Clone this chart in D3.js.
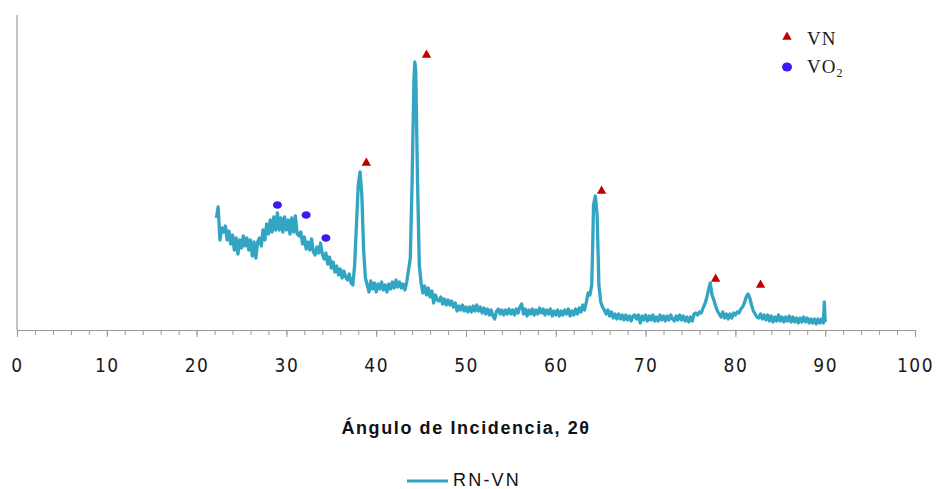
<!DOCTYPE html>
<html>
<head>
<meta charset="utf-8">
<script src="https://cdn.jsdelivr.net/npm/d3@7"></script>
<style>
  html, body { margin: 0; padding: 0; background: #fff; }
  svg { display: block; }
</style>
</head>
<body>
<svg id="chart" width="936" height="489"></svg>
<script>
// ---------- DATA ----------
const xTickValues = [0, 10, 20, 30, 40, 50, 60, 70, 80, 90, 100];
const seriesName = "RN-VN";
const xTitle = "Ángulo de Incidencia, 2θ";

// [2θ, intensity (a.u.)]
const pattern = [
  [22.2,112],[22.4,123],[22.6,90],[22.8,102],[23.0,98],[23.2,104],[23.4,90],[23.6,99],[23.8,86],[24.0,95],
  [24.2,80],[24.4,92],[24.6,76],[24.8,90],[25.0,82],[25.2,94],[25.4,84],[25.6,92],[25.8,80],[26.0,90],
  [26.2,74],[26.4,88],[26.6,72],[26.8,88],[27.0,92],[27.2,84],[27.4,100],[27.6,90],[27.8,106],[28.0,96],
  [28.2,110],[28.4,98],[28.6,113],[28.8,100],[29.0,117],[29.2,100],[29.4,112],[29.6,98],[29.8,113],[30.0,100],
  [30.2,110],[30.4,96],[30.6,112],[30.8,98],[31.0,114],[31.2,96],[31.4,94],[31.6,98],[31.8,86],[32.0,93],
  [32.2,81],[32.4,88],[32.6,80],[32.8,91],[33.0,78],[33.2,75],[33.4,83],[33.6,77],[33.8,87],[34.0,76],
  [34.2,71],[34.4,77],[34.6,66],[34.8,73],[35.0,62],[35.2,68],[35.4,58],[35.6,64],[35.8,55],[36.0,61],
  [36.2,52],[36.4,59],[36.6,53],[36.8,50],[37.0,56],[37.2,47],[37.4,45],[37.6,65],[37.8,105],[38.0,145],
  [38.2,158],[38.4,135],[38.6,80],[38.8,52],[39.0,45],[39.2,38],[39.4,49],[39.6,41],[39.8,47],[40.0,38],
  [40.2,46],[40.4,41],[40.6,48],[40.8,40],[41.0,45],[41.2,38],[41.4,46],[41.6,41],[41.8,48],[42.0,42],
  [42.2,50],[42.4,43],[42.6,48],[42.8,42],[43.0,46],[43.2,40],[43.4,48],[43.6,60],[43.8,72],[44.0,150],
  [44.2,250],[44.3,268],[44.4,260],[44.6,150],[44.8,65],[45.0,47],[45.2,37],[45.4,44],[45.6,35],[45.8,42],
  [46.0,33],[46.2,39],[46.4,27],[46.6,35],[46.8,30],[47.0,29],[47.2,33],[47.4,26],[47.6,31],[47.8,25],
  [48.0,30],[48.2,25],[48.4,29],[48.6,23],[48.8,27],[49.0,19],[49.2,24],[49.4,20],[49.6,25],[49.8,19],
  [50.0,23],[50.2,18],[50.4,23],[50.6,18],[50.8,24],[51.0,19],[51.2,25],[51.4,19],[51.6,23],[51.8,17],
  [52.0,22],[52.2,16],[52.4,21],[52.6,15],[52.8,20],[53.0,14],[53.2,11],[53.4,19],[53.6,21],[53.8,16],
  [54.0,20],[54.2,15],[54.4,20],[54.6,16],[54.8,21],[55.0,16],[55.2,20],[55.4,15],[55.6,21],[55.8,17],
  [56.0,23],[56.2,26],[56.4,16],[56.6,21],[56.8,14],[57.0,20],[57.2,16],[57.4,21],[57.6,15],[57.8,20],
  [58.0,16],[58.2,22],[58.4,17],[58.6,21],[58.8,15],[59.0,20],[59.2,16],[59.4,21],[59.6,14],[59.8,19],
  [60.0,15],[60.2,20],[60.4,14],[60.6,19],[60.8,15],[61.0,20],[61.2,16],[61.4,21],[61.6,14],[61.8,19],
  [62.0,15],[62.2,21],[62.4,16],[62.6,22],[62.8,18],[63.0,25],[63.2,20],[63.4,28],[63.6,37],[63.8,35],
  [64.0,45],[64.1,80],[64.2,125],[64.4,134],[64.6,115],[64.8,45],[65.0,28],[65.2,23],[65.4,20],[65.6,16],
  [65.8,20],[66.0,14],[66.2,18],[66.4,12],[66.6,16],[66.8,11],[67.0,16],[67.2,11],[67.4,15],[67.6,10],
  [67.8,15],[68.0,10],[68.2,14],[68.4,9],[68.6,14],[68.8,15],[69.0,11],[69.2,15],[69.4,7],[69.6,14],
  [69.8,10],[70.0,15],[70.2,9],[70.4,14],[70.6,10],[70.8,15],[71.0,9],[71.2,13],[71.4,9],[71.6,15],
  [71.8,10],[72.0,14],[72.2,9],[72.4,14],[72.6,10],[72.8,15],[73.0,11],[73.2,9],[73.4,14],[73.6,10],
  [73.8,15],[74.0,10],[74.2,14],[74.4,9],[74.6,13],[74.8,8],[75.0,13],[75.2,9],[75.4,16],[75.6,17],
  [75.8,15],[76.0,18],[76.2,17],[76.4,22],[76.6,26],[76.8,32],[77.0,40],[77.2,47],[77.4,35],[77.6,30],
  [77.8,24],[78.0,19],[78.2,16],[78.4,13],[78.6,18],[78.8,12],[79.0,16],[79.2,11],[79.4,16],[79.6,12],
  [79.8,17],[80.0,15],[80.2,18],[80.4,17],[80.6,21],[80.8,23],[81.0,27],[81.2,33],[81.4,36],[81.6,32],
  [81.8,25],[82.0,19],[82.2,16],[82.4,13],[82.6,12],[82.8,16],[83.0,11],[83.2,15],[83.4,10],[83.6,15],
  [83.8,9],[84.0,14],[84.2,8],[84.4,13],[84.6,9],[84.8,15],[85.0,9],[85.2,13],[85.4,8],[85.6,13],
  [85.8,9],[86.0,14],[86.2,8],[86.4,13],[86.6,8],[86.8,12],[87.0,7],[87.2,12],[87.4,8],[87.6,13],
  [87.8,8],[88.0,12],[88.2,7],[88.4,11],[88.6,7],[88.8,11],[89.0,6],[89.2,11],[89.4,7],[89.6,11],
  [89.8,7],[89.9,28],[90.0,8]
];

// Phase markers [2θ, intensity]
const vnPeaks = [[38.9,167],[45.6,275],[65.1,139],[77.8,51],[82.8,45]];
const vo2Peaks = [[29.0,125],[32.2,115],[34.4,92]];

// ---------- LAYOUT ----------
const svg = d3.select("#chart");
const x = d3.scaleLinear().domain([0, 100]).range([17, 915]);
const y = d3.scaleLinear().domain([0, 315]).range([330, 15]);

const axisColor = "#9a9a9a";
const lineColor = "#31a5c2";

// Y axis line (no ticks)
svg.append("line")
  .attr("x1", x(0)).attr("x2", x(0))
  .attr("y1", y(315)).attr("y2", y(0))
  .attr("stroke", axisColor).attr("stroke-width", 1.2);

// X axis: minor ticks every 2
const xAxisG = svg.append("g").attr("transform", `translate(0,${y(0)})`);
xAxisG.call(d3.axisBottom(x).tickValues(d3.range(0, 101, 2)).tickSize(5).tickFormat(""))
  .call(g => g.select(".domain").attr("stroke", axisColor).attr("stroke-width", 1.2))
  .call(g => g.selectAll(".tick line").attr("stroke", axisColor).attr("stroke-width", 1));
// Major ticks + labels
const xMajor = svg.append("g").attr("transform", `translate(0,${y(0)})`);
xMajor.call(d3.axisBottom(x).tickValues(xTickValues).tickSize(7).tickPadding(22).tickFormat(d3.format("d")))
  .call(g => g.select(".domain").remove())
  .call(g => g.selectAll(".tick line").attr("stroke", axisColor).attr("stroke-width", 1))
  .call(g => g.selectAll(".tick text")
      .attr("fill", "#1a1a1a")
      .attr("font-family", "'Liberation Sans Narrow','DejaVu Sans Condensed','Liberation Sans',sans-serif")
      .attr("font-size", "19px")
      .attr("letter-spacing", "1.5px"));

// Series line
const line = d3.line().x(d => x(d[0])).y(d => y(d[1]));
svg.append("path")
  .datum(pattern)
  .attr("d", line)
  .attr("fill", "none")
  .attr("stroke", lineColor)
  .attr("stroke-width", 3.3)
  .attr("stroke-linejoin", "round");

// VN markers (triangles)
const tri = d3.symbol().type(d3.symbolTriangle).size(38);
svg.append("g").selectAll("path").data(vnPeaks).join("path")
  .attr("d", tri)
  .attr("transform", d => `translate(${x(d[0])},${y(d[1])})`)
  .attr("fill", "#c00000");

// VO2 markers (ellipses)
svg.append("g").selectAll("ellipse").data(vo2Peaks).join("ellipse")
  .attr("cx", d => x(d[0])).attr("cy", d => y(d[1]))
  .attr("rx", 4.5).attr("ry", 3.8)
  .attr("fill", "#3b1cf2");

// Top-right legend
svg.append("path").attr("d", tri).attr("transform", "translate(787,37)").attr("fill", "#c00000");
svg.append("ellipse").attr("cx", 787).attr("cy", 67).attr("rx", 5).attr("ry", 4.5).attr("fill", "#3b1cf2");
const serif = "'Liberation Serif','DejaVu Serif',serif";
svg.append("text").attr("x", 807).attr("y", 45).attr("font-family", serif).attr("font-size", "19px")
  .attr("letter-spacing", "1px").attr("fill", "#1a1a1a").text("VN");
const vo2Label = svg.append("text").attr("x", 807).attr("y", 73).attr("font-family", serif)
  .attr("font-size", "19px").attr("letter-spacing", "1px").attr("fill", "#1a1a1a");
vo2Label.append("tspan").text("VO");
vo2Label.append("tspan").attr("font-size", "12px").attr("dy", 4).text("2");

// X axis title
svg.append("text")
  .attr("x", x(50)).attr("y", 434)
  .attr("text-anchor", "middle")
  .attr("font-family", "'Liberation Sans','Open Sans',sans-serif")
  .attr("font-weight", "bold")
  .attr("font-size", "18px")
  .attr("letter-spacing", "1.6px")
  .attr("fill", "#111")
  .text(xTitle);

// Bottom legend
svg.append("line").attr("x1", 407).attr("x2", 448).attr("y1", 481).attr("y2", 481)
  .attr("stroke", lineColor).attr("stroke-width", 3);
svg.append("text").attr("x", 453).attr("y", 486)
  .attr("font-family", "'Liberation Sans','Open Sans',sans-serif")
  .attr("font-size", "18px").attr("letter-spacing", "2.2px").attr("fill", "#111")
  .text(seriesName);
</script>
</body>
</html>
